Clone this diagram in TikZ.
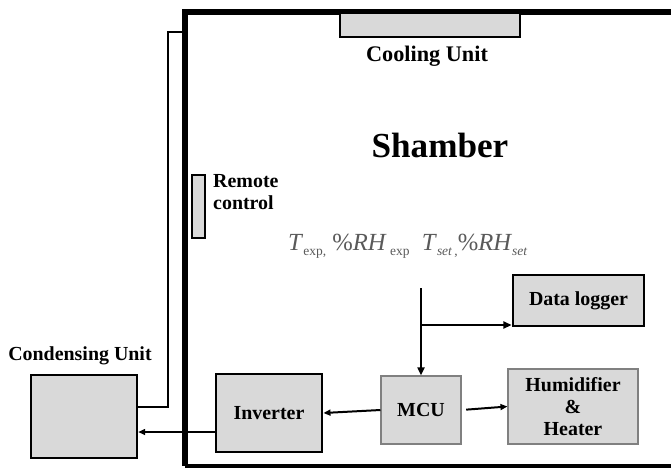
\documentclass[tikz,border=0pt]{standalone}
\usepackage{fontspec}
\setmainfont{Liberation Serif}
\usetikzlibrary{positioning,arrows.meta}
\definecolor{boxgray}{RGB}{217,217,217}
\definecolor{edgegray}{RGB}{128,128,128}
\definecolor{sigtext}{RGB}{90,90,90}
\newcommand{\sbs}[1]{\raisebox{-0.45ex}{\fontsize{11.5}{12}\selectfont #1}}
\tikzset{
  wall/.style={line width=4.6pt},
  gbox/.style={rectangle,fill=boxgray,draw=black,line width=1.6pt,inner sep=0pt},
  tbox/.style={gbox,line width=2.4pt},
  lbox/.style={gbox,draw=edgegray,line width=0.9pt},
  blab/.style={font=\fontsize{17}{19}\selectfont\bfseries},
  arr/.style={line width=1.7pt,-{Triangle[length=6pt,width=5pt]}},
  sarr/.style={line width=2.4pt,-{Triangle[length=7pt,width=6pt]}},
  pipe/.style={line width=1.7pt}
}
\begin{document}
\begin{tikzpicture}[x=0.03cm,y=-0.03cm]
  \useasboundingbox (0,0) rectangle (671,468);
  % chamber walls
  \draw[wall] (700,12) -- (185,12) -- (185,466);
  \draw[line width=2.8pt] (185,466) -- (700,466);
  % units
  \node[gbox,minimum width=5.4cm,minimum height=0.72cm] (cool) at (430,25) {};
  \node[blab,font=\fontsize{19}{21}\selectfont\bfseries] (cooltxt) at (427,56) {Cooling Unit};
  \node[font=\fontsize{30}{32}\selectfont\bfseries] (title) at (440,145) {Shamber};
  \node[gbox,line width=1.2pt,minimum width=0.39cm,minimum height=1.89cm] (remote) at (198.5,206.5) {};
  \node[blab,align=left,anchor=west,inner sep=0pt] (remotetxt) at (213,192) {Remote\\control};
  \node[text=sigtext,anchor=base west,inner sep=0pt,font=\fontsize{21}{23}\selectfont] (sig) at (288,250)
    {\textit{T}\sbs{exp,} \%\textit{RH}\sbs{ exp}\ \ \textit{T}\sbs{\textit{set}\,,}\%\textit{RH}\sbs{\textit{set}}};
  \node[tbox,minimum width=3.93cm,minimum height=1.53cm,blab] (dlog) at (578.5,300.5) {Data logger};
  \node[lbox,minimum width=2.4cm,minimum height=2.04cm,blab] (mcu) at (421,410) {MCU};
  \node[lbox,minimum width=3.9cm,minimum height=2.25cm,blab,align=center] (humid) at (573,406.5) {Humidifier\\\&\\Heater};
  \node[tbox,minimum width=3.18cm,minimum height=2.34cm,blab] (inv) at (269,413) {Inverter};
  \node[gbox,line width=2pt,minimum width=3.18cm,minimum height=2.49cm] (cond) at (84,416.5) {};
  \node[blab] (condtxt) at (80,356) {Condensing Unit};
  % signals
  \coordinate (top) at (421,288);
  \coordinate (br) at (421,325);
  \draw[sarr] (top) -- (mcu.north);
  \draw[sarr] (br) -- (br -| dlog.west);
  \draw[arr] (mcu.west) -- (inv.east);
  \draw[arr,shorten <=4pt] (mcu.east) -- (humid.west);
  \draw[arr] ([yshift=-0.57cm]inv.west) -- ([yshift=-0.57cm]inv.west -| cond.east);
  % refrigerant pipe
  \coordinate (bend) at (168,32);
  \coordinate (port) at (185,32);
  \draw[pipe] ([yshift=0.285cm]cond.east) -| (bend) -- (port);
\end{tikzpicture}
\end{document}
